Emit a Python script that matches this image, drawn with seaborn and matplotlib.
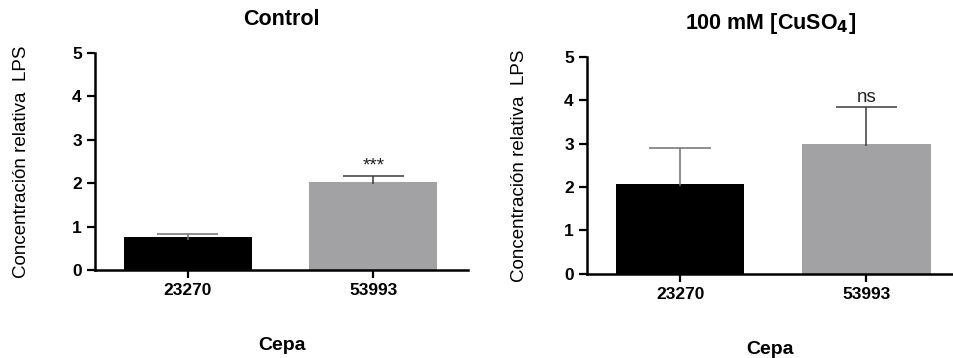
import matplotlib
matplotlib.use("Agg")
import matplotlib.pyplot as plt
import seaborn as sns
import pandas as pd

# ------------------ Data ------------------
cepas = ["23270", "53993"]
control_mean = [0.75, 2.02]
control_err = [0.08, 0.15]
cuso4_mean = [2.07, 3.0]
cuso4_err = [0.82, 0.85]
control_sig = "***"
cuso4_sig = "ns"

bar_colors = ["#000000", "#a2a1a6"]
err_colors = ["#6f6f6f", "#3a3a3a"]

sns.set_style("ticks")
plt.rcParams["font.family"] = ["Liberation Sans", "DejaVu Sans"]
plt.rcParams.update({"text.color": "black", "axes.labelcolor": "black",
                     "xtick.color": "black", "ytick.color": "black"})


def panel(ax, means, errs, sig, title, ylab_x, xlab_y):
    df = pd.DataFrame({"Cepa": cepas, "valor": means})
    sns.barplot(data=df, x="Cepa", y="valor", hue="Cepa", palette=bar_colors,
                width=0.69, legend=False, ax=ax, edgecolor="none")
    # upper-only error bars (vertical line + top cap)
    for i, (m, e) in enumerate(zip(means, errs)):
        ax.vlines(i, m - 0.05, m + e, color=err_colors[i], lw=1.1, zorder=3)
        ax.hlines(m + e, i - 0.165, i + 0.165, color=err_colors[i], lw=1.1, zorder=3)
    ax.text(1, means[1] + errs[1] + 0.02, sig, ha="center", va="bottom",
            fontsize=13.5, color="#222222")
    ax.set_ylim(0, 5)
    ax.set_yticks(range(6))
    ax.set_xlim(-0.5, 1.51)
    ax.set_title(title, fontsize=15.5, fontweight="bold", pad=20)
    ax.set_xlabel("Cepa", fontsize=14, fontweight="bold")
    ax.xaxis.set_label_coords(0.5, xlab_y)
    ax.set_ylabel("Concentración relativa  LPS", fontsize=13.5)
    ax.yaxis.set_label_coords(ylab_x, 0.5)
    for lab in ax.get_xticklabels() + ax.get_yticklabels():
        lab.set_fontweight("bold")
        lab.set_fontsize(12.5)
    ax.tick_params(axis="both", length=6, width=1.6, color="black")
    for s in ["left", "bottom"]:
        ax.spines[s].set_linewidth(1.8)
        ax.spines[s].set_color("black")
    sns.despine(ax=ax)


fig = plt.figure(figsize=(9.54, 3.58), dpi=100)
ax1 = fig.add_axes([0.0996, 0.246, 0.391, 0.606])
ax2 = fig.add_axes([0.6153, 0.235, 0.3847, 0.606])

panel(ax1, control_mean, control_err, control_sig, "Control", -0.175, -0.31)
panel(ax2, cuso4_mean, cuso4_err, cuso4_sig, "100 mM [CuSO$_\\mathbf{4}$]", -0.16, -0.31)
ax2.set_xlim(-0.5, 1.47)

fig.savefig("out.png", dpi=100)
